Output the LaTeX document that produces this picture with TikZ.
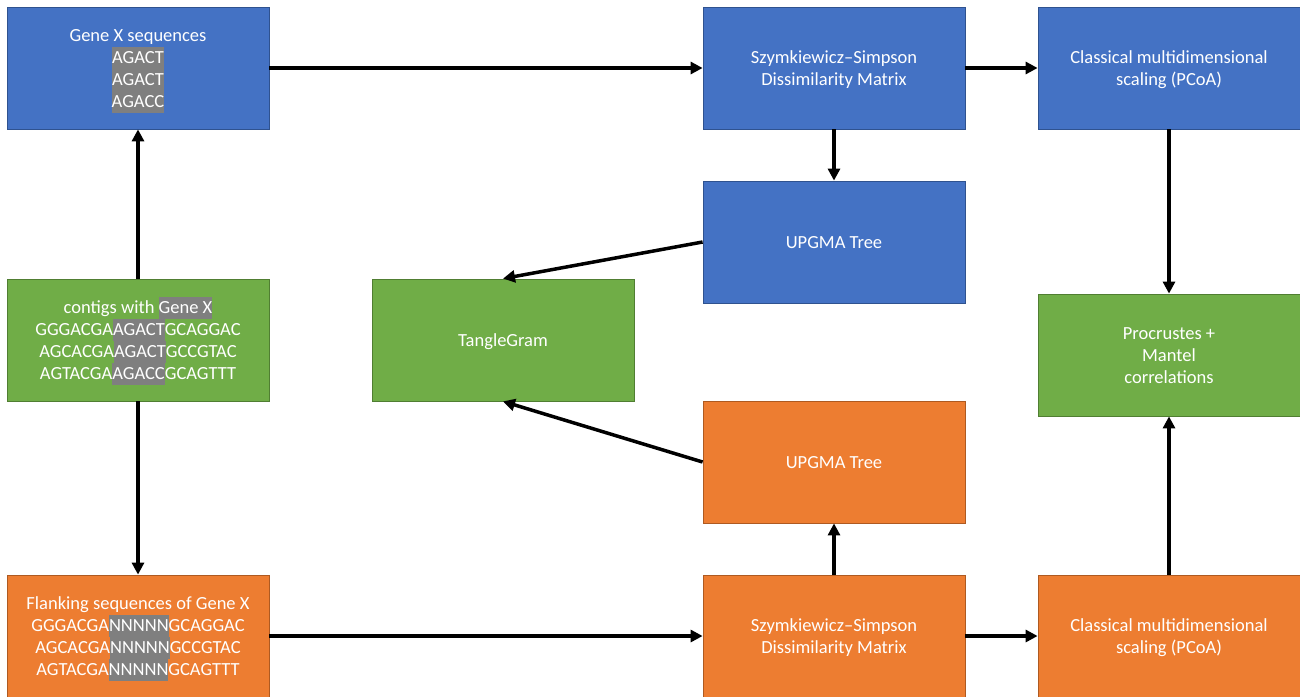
\documentclass[tikz,border=0pt]{standalone}
\usepackage{fontspec}
\setmainfont{Carlito}
\usetikzlibrary{arrows.meta}
\definecolor{bluef}{HTML}{4472C4}
\definecolor{blued}{HTML}{2F528F}
\definecolor{greenf}{HTML}{70AD47}
\definecolor{greend}{HTML}{507E32}
\definecolor{orangef}{HTML}{ED7D31}
\definecolor{oranged}{HTML}{AE5A21}
\definecolor{hlgray}{HTML}{7F7F7F}
\newcommand\hlg[1]{{\setlength\fboxsep{0pt}\colorbox{hlgray}{\rule[-5.5pt]{0pt}{22pt}#1}}}
\newcommand\fs{\rule[-5.5pt]{0pt}{24.5pt}}
\newcommand\ls{\rule[-5.5pt]{0pt}{5.5pt}}
\begin{document}
\begin{tikzpicture}[x=1pt,y=-1pt,
  box/.style={minimum width=262pt, minimum height=122pt, inner sep=0pt, text=white, align=center, font=\fontsize{18.5}{22}\selectfont, line width=0.8pt},
  bluebox/.style={box, fill=bluef, draw=blued},
  greenbox/.style={box, fill=greenf, draw=greend},
  orangebox/.style={box, fill=orangef, draw=oranged},
  arr/.style={line width=3.5pt, -{Triangle[length=12pt,width=12pt]}}]
\useasboundingbox (0,0) rectangle (1300,696);
\clip (0,0) rectangle (1300,696);
\node[bluebox] (gx) at (138,68) {\fs Gene X sequences\\\hlg{AGACT}\\\hlg{AGACT}\\\hlg{AGACC}\ls};
\node[greenbox] (ct) at (138,340) {\fs contigs with \hlg{Gene X}\\GGGACGA\hlg{AGACT}GCAGGAC\\AGCACGA\hlg{AGACT}GCCGTAC\\AGTACGA\hlg{AGACC}GCAGTTT\ls};
\node[orangebox] (fl) at (138,636) {\fs Flanking sequences of Gene X\\GGGACGA\hlg{NNNNN}GCAGGAC\\AGCACGA\hlg{NNNNN}GCCGTAC\\AGTACGA\hlg{NNNNN}GCAGTTT\ls};
\node[bluebox] (ss1) at (834,68) {\fs Szymkiewicz–Simpson\\Dissimilarity Matrix\ls};
\node[bluebox] (cl1) at (1169,68) {\fs Classical multidimensional\\scaling (PCoA)\ls};
\node[bluebox] (up1) at (834,242) {\fs UPGMA Tree\ls};
\node[greenbox] (tg) at (503,340) {\fs TangleGram\ls};
\node[greenbox] (pr) at (1169,355) {\fs Procrustes +\\Mantel\\correlations\ls};
\node[orangebox] (up2) at (834,462) {\fs UPGMA Tree\ls};
\node[orangebox] (ss2) at (834,636) {\fs Szymkiewicz–Simpson\\Dissimilarity Matrix\ls};
\node[orangebox] (cl2) at (1169,636) {\fs Classical multidimensional\\scaling (PCoA)\ls};
\draw[arr] (gx.east) -- (ss1.west);
\draw[arr] (ss1.east) -- (cl1.west);
\draw[arr] (ss1.south) -- (up1.north);
\draw[arr] (cl1.south) -- (pr.north);
\draw[arr] (ct.north) -- (gx.south);
\draw[arr] (ct.south) -- (fl.north);
\draw[arr] (up1.west) -- (tg.north);
\draw[arr] (up2.west) -- (tg.south);
\draw[arr] (fl.east) -- (ss2.west);
\draw[arr] (ss2.east) -- (cl2.west);
\draw[arr] (ss2.north) -- (up2.south);
\draw[arr] (cl2.north) -- (pr.south);
\end{tikzpicture}
\end{document}
